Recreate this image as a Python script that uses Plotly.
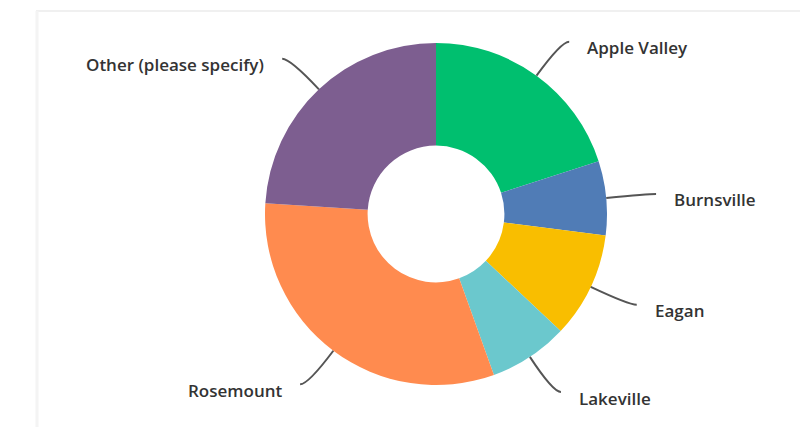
import math
import plotly.graph_objects as go

labels = ["Apple Valley", "Burnsville", "Eagan", "Lakeville", "Rosemount", "Other (please specify)"]
values = [20.0, 7.0, 10.0, 7.5, 31.5, 24.0]
colors = ["#00BF6F", "#507CB6", "#F9BE00", "#6BC8CD", "#FF8B4F", "#7D5E90"]

W, H = 800, 427
CX, CY, R = 436, 214, 171
HOLE = 0.4

fig = go.Figure(go.Pie(
    labels=labels, values=values, sort=False, direction="clockwise", rotation=0,
    hole=HOLE, marker=dict(colors=colors, line=dict(width=0)),
    textinfo="none", hoverinfo="label+percent", showlegend=False,
    domain=dict(x=[(CX - R) / W, (CX + R) / W], y=[1 - (CY + R) / H, 1 - (CY - R) / H]),
))

def px(x, y):
    return x / W, 1 - y / H

shapes = []
annotations = []
total = sum(values)
cum = 0.0
D, HOFF, GAP = 42, 8, 16
for lab, v in zip(labels, values):
    mid = (cum + v / 2) / total * 2 * math.pi
    cum += v
    ux, uy = math.sin(mid), -math.cos(mid)
    side = 1 if ux >= 0 else -1
    sx, sy = CX + R * ux, CY + R * uy
    cx_, cy_ = sx + ux * D, sy + uy * D
    ex, ey = cx_ + side * HOFF, cy_
    p0, p1, p2 = px(sx, sy), px(cx_, cy_), px(ex, ey)
    shapes.append(dict(type="path", xref="paper", yref="paper",
                       path=f"M {p0[0]} {p0[1]} Q {p1[0]} {p1[1]} {p2[0]} {p2[1]}",
                       line=dict(color="#555555", width=2)))
    tx, ty = px(ex + side * GAP, ey + 6)
    annotations.append(dict(x=tx, y=ty, xref="paper", yref="paper", text=lab, showarrow=False,
                            xanchor="left" if side > 0 else "right", yanchor="middle",
                            font=dict(family="Open Sans", size=17, color="#333333", weight=600)))

# faint frame
shapes.append(dict(type="line", xref="paper", yref="paper", x0=36 / W, x1=1, y0=1 - 11 / H, y1=1 - 11 / H,
                   line=dict(color="#f0f0f0", width=2)))
shapes.append(dict(type="line", xref="paper", yref="paper", x0=37 / W, x1=37 / W, y0=0, y1=1 - 11 / H,
                   line=dict(color="#f4f4f4", width=3)))

fig.update_layout(width=W, height=H, margin=dict(l=0, r=0, t=0, b=0),
                  paper_bgcolor="white", plot_bgcolor="white",
                  shapes=shapes, annotations=annotations)
fig.write_html("out.html", config={"displayModeBar": False},
               post_script="document.body.style.margin='0px';")
